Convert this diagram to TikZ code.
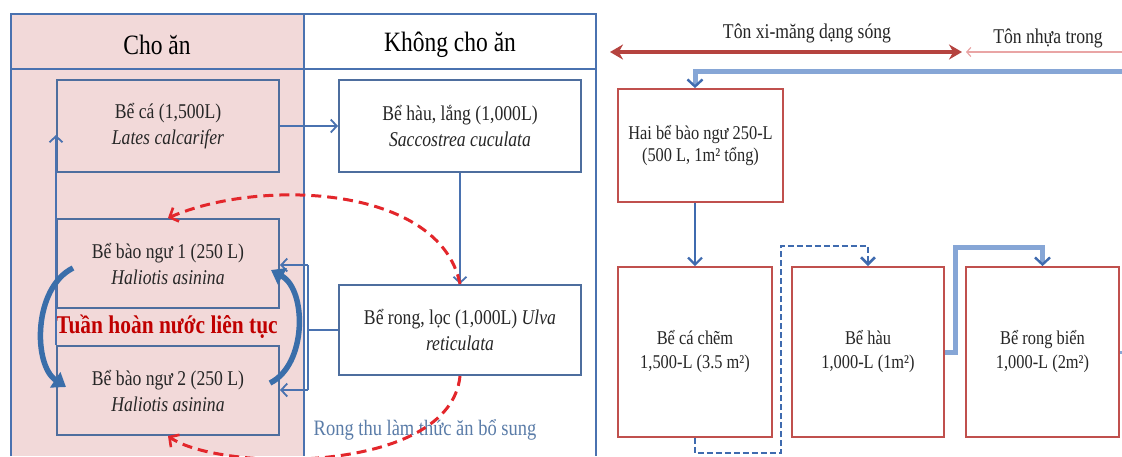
\documentclass[tikz,border=0pt]{standalone}
\usepackage{fontspec}
\setmainfont{Liberation Serif}[FakeStretch=0.84]
\usetikzlibrary{arrows.meta,calc}
\definecolor{frameblue}{HTML}{4A72B0}
\definecolor{boxblue}{HTML}{4E6E9E}
\definecolor{pinkfill}{HTML}{F2D9D9}
\definecolor{dashred}{HTML}{E3262B}
\definecolor{arcblue}{HTML}{3A6EAA}
\definecolor{boxred}{HTML}{C0504D}
\definecolor{barred}{HTML}{B5433F}
\definecolor{lightpink}{HTML}{E9A5A5}
\definecolor{pipeblue}{HTML}{86A6D6}
\definecolor{darkblue}{HTML}{3F6BAF}
\definecolor{textgray}{HTML}{262626}
\definecolor{labelblue}{HTML}{5A7CA8}
\definecolor{titlered}{HTML}{C00000}
\begin{document}
\begin{tikzpicture}[x=1pt,y=-1pt,
  frame/.style={draw=frameblue, line width=1.6pt},
  hdr/.style={text=black, font=\fontsize{28}{30}\selectfont, inner sep=0pt},
  lbox/.style={draw=boxblue, line width=2pt, minimum width=222pt, minimum height=90pt,
    align=center, text=textgray, font=\fontsize{21}{26}\selectfont, inner sep=0pt},
  wbox/.style={lbox, fill=white, minimum width=242pt},
  rbox/.style={draw=boxred, line width=1.8pt, fill=white, align=center, text=textgray,
    font=\fontsize{19.5}{24}\selectfont, inner sep=0pt},
  flow/.style={draw=frameblue, line width=1.8pt, -{Straight Barb[length=6pt,width=13pt]}},
  plainflow/.style={draw=frameblue, line width=1.8pt},
  reddash/.style={draw=dashred, line width=3pt, dash pattern=on 10pt off 6pt,
    -{Straight Barb[length=7pt,width=15pt,line width=2.6pt]}},
  arc/.style={draw=arcblue, line width=5.5pt, -{Triangle[length=13pt,width=18pt]}},
  pipe/.style={draw=pipeblue, line width=5pt,
    -{Straight Barb[color=darkblue,length=7pt,width=15pt,line width=2.4pt]}},
  thinflow/.style={draw=darkblue, line width=2.2pt, -{Straight Barb[length=7pt,width=14pt]}},
  dflow/.style={draw=darkblue, line width=2.6pt, dash pattern=on 6pt off 3pt,
    -{Straight Barb[length=7pt,width=14pt]}},
  lbl/.style={text=textgray, font=\fontsize{21}{24}\selectfont, inner sep=0pt}
]
\useasboundingbox (0,0) rectangle (1122,456);
\fill[white] (0,0) rectangle (1122,456);

% ---------- left panel ----------
\fill[pinkfill] (11,14) rectangle (304,456);
\draw[frame] (11,456) -- (11,14) -- (596,14) -- (596,456);
\draw[frame] (11,69) -- (596,69);
\draw[frame] (304,14) -- (304,456);

\node[hdr] (h1) at (157,45) {Cho ăn};
\node[hdr] (h2) at (450,45) {Không cho ăn};

\node[lbox, minimum height=92pt] (ca) at (168,126) {Bể cá (1,500L)\\\textit{Lates calcarifer}};
\node[wbox, minimum height=92pt] (hau) at (460,126) {Bể hàu, lắng (1,000L)\\\textit{Saccostrea cuculata}};
\node[lbox, minimum height=89pt] (bn1) at (168,263.5) {Bể bào ngư 1 (250 L)\\\textit{Haliotis asinina}};
\node[lbox, minimum height=89pt] (bn2) at (168,390.5) {Bể bào ngư 2 (250 L)\\\textit{Haliotis asinina}};
\node[wbox, minimum height=90pt] (rong) at (460,330) {Bể rong, lọc (1,000L) \textit{Ulva}\\\textit{reticulata}};

\node[text=titlered, font=\bfseries\fontsize{25.5}{28}\selectfont, inner sep=0pt] (th) at (167,327) {Tuần hoàn nước liên tục};
\node[text=labelblue, font=\fontsize{22}{24}\selectfont, inner sep=0pt] (rl) at (425,430) {Rong thu làm thức ăn bổ sung};

\draw[flow] (ca.east) -- (hau.west);
\draw[flow] (hau.south) -- (rong.north);
\draw[flow] (bn2.north west) -- ([yshift=-9pt]ca.west);

\coordinate (j1) at (308,265);
\coordinate (j2) at (308,390);
\draw[plainflow] (rong.west) -- (rong.west -| j1);
\draw[plainflow] (j1) -- (j2);
\draw[flow] (j1) -- (j1 -| bn1.east);
\draw[flow] (j2) -- (j2 -| bn2.east);

\coordinate (a1s) at (73,268);
\coordinate (a1e) at (66,387);
\coordinate (a2s) at (270,383);
\coordinate (a2e) at (271,270);
\draw[arc] (a1s) .. controls (33,288) and (33,365) .. (a1e);
\draw[arc] (a2s) .. controls (307,365) and (307,290) .. (a2e);

\draw[reddash] (rong.north) .. controls (440,185) and (260,178) .. (bn1.north);
\draw[reddash] (rong.south) .. controls (450,475) and (220,472) .. (bn2.south);

% ---------- right panel ----------
\coordinate (dl) at (610,52);
\coordinate (dr) at (962,52);
\coordinate (pr) at (1122,52);
\coordinate (pl) at (966,52);
\draw[barred, line width=4pt, {Stealth[length=13pt,width=15pt]}-{Stealth[length=13pt,width=15pt]}] (dl) -- (dr);
\draw[lightpink, line width=1.2pt, -{Straight Barb[length=4pt,width=9pt]}] (pr) -- (pl);
\node[lbl] (t1) at (807,33) {Tôn xi-măng dạng sóng};
\node[lbl] (t2) at (1048,38) {Tôn nhựa trong};

\node[rbox, minimum width=165pt, minimum height=113pt, font=\fontsize{19.5}{22}\selectfont] (hai) at (700.5,145.5) {Hai bể bào ngư 250-L\\(500 L, 1m² tổng)};
\node[rbox, minimum width=154pt, minimum height=170pt] (chem) at (695,352) {Bể cá chẽm\\1,500-L (3.5 m²)};
\node[rbox, minimum width=152pt, minimum height=170pt] (hau2) at (868,352) {Bể hàu\\1,000-L (1m²)};
\node[rbox, minimum width=153pt, minimum height=170pt] (rongb) at (1042.5,352) {Bể rong biển\\1,000-L (2m²)};

\coordinate (tr) at (1122,71);
\draw[pipe] (tr) -| ([xshift=-5.5pt]hai.north);
\draw[thinflow] (hai.south -| chem.north) -- (chem.north);
\draw[dflow] (chem.south) |- (781,453) -- (781,246) -| (hau2.north);
\draw[pipe] (hau2.east) -- ++(11,0) |- ([yshift=19pt]rongb.north) -- (rongb.north);
\coordinate (re) at (1122,352);
\draw[pipeblue, line width=3pt] (rongb.east) -- (re);
\end{tikzpicture}
\end{document}
